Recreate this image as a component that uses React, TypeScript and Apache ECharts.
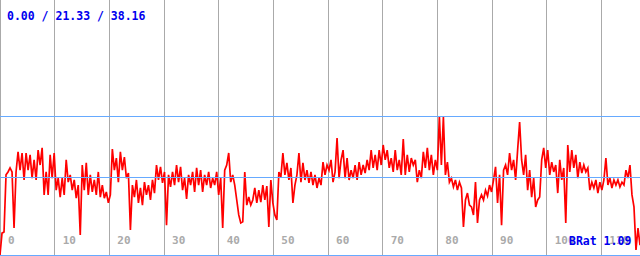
import React, { useEffect, useRef } from "react";
import * as echarts from "echarts";

// sampled values (one every ~2 px of the original strip)
const SAMPLES: number[] = [
  0, 6.0, 6.3, 22.0, 22.8, 23.9, 22.8, 7.4, 22.8, 28.3,
  23.3, 28.0, 20.6, 28.0, 23.3, 27.5, 21.1, 26.1, 20.6, 28.8,
  24.7, 29.4, 16.5, 22.8, 16.5, 27.5, 21.1, 28.0, 17.8, 21.1,
  15.9, 21.1, 16.5, 26.1, 20.0, 22.0, 17.8, 20.6, 15.6, 19.2,
  5.5, 24.7, 17.8, 25.3, 16.5, 22.0, 17.3, 20.6, 16.5, 22.8,
  15.9, 19.2, 15.6, 17.3,
  14.3, 16.5, 29.1, 23.3, 26.6, 20.0, 28.3, 23.3, 26.9, 21.1,
  22.5, 6.9, 19.2, 15.9, 20.6, 14.3, 18.4, 13.7, 20.0, 16.5,
  19.2, 15.1, 20.6, 17.0, 24.7, 20.6, 24.2, 19.8, 22.8, 8.2,
  22.0, 18.7, 22.8, 19.2, 24.7, 20.0, 24.2, 17.8, 21.1, 15.4,
  22.0, 19.2, 22.8, 17.3, 23.9, 19.2, 23.3, 17.3, 22.0, 19.2,
  22.8, 18.4, 21.1,
  19.2, 22.8, 16.5, 21.1, 7.4, 23.3, 24.7, 28.0, 20.0, 22.0,
  19.2, 15.1, 11.0, 8.8, 9.1, 22.8, 13.7, 15.9, 13.7, 15.1,
  18.4, 14.3, 17.8, 14.5, 19.2, 15.1, 18.9, 7.7, 20.6, 14.3,
  11.0, 9.6, 22.8, 21.4, 28.0, 22.0, 25.3, 20.6, 23.9, 14.3,
  19.2, 22.0, 28.0, 20.0, 25.3, 20.6, 23.3, 19.8, 22.8, 19.2,
  22.0, 18.4, 21.1, 19.2,
  25.5, 22.0, 24.7, 23.3, 26.1, 20.0, 22.8, 32.1, 21.1, 26.1,
  28.8, 21.1, 26.6, 20.6, 23.3, 21.1, 24.7, 20.6, 25.5, 22.0,
  24.7, 22.5, 26.1, 23.3, 28.8, 23.9, 27.5, 23.3, 28.8, 24.7,
  30.2, 26.1, 28.8, 23.9, 26.6, 22.8, 28.8, 23.3, 26.1, 22.0,
  31.8, 22.0, 27.5, 22.8, 26.6, 24.7, 26.1, 20.0, 23.3, 21.1,
  28.3, 23.9, 29.4,
  23.3, 27.5, 22.0, 26.1, 23.3, 38.16, 24.7, 37.9, 22.0, 25.5,
  20.0, 21.1, 18.7, 20.6, 17.8, 20.0, 18.4, 7.7, 15.1, 17.0,
  13.7, 13.2, 11.0, 20.0, 8.8, 15.1, 16.5, 15.1, 17.8, 16.2,
  19.2, 17.3, 20.6, 24.2, 14.3, 22.0, 8.2, 23.3, 24.7, 22.0,
  28.0, 23.3, 26.1, 20.6, 28.8, 36.5, 26.1, 22.0, 27.5, 17.8,
  23.3, 15.9, 21.1, 13.2,
  15.1, 15.9, 26.1, 29.4, 23.9, 28.8, 22.0, 25.5, 22.8, 24.7,
  17.0, 26.1, 20.6, 23.9, 8.8, 30.2, 22.8, 28.8, 23.9, 27.5,
  21.1, 25.5, 22.5, 24.7, 22.8, 23.9, 17.8, 20.0, 18.4, 20.6,
  17.0, 20.0, 17.8, 20.6, 26.6, 19.2, 21.1, 18.4, 20.6, 19.2,
  20.6, 18.7, 20.0, 19.2, 23.3, 21.1, 24.7, 16.5, 13.2, 1.4,
  7.4, 2.7,
];

const MIN_VAL = 0.0;
const AVG_VAL = 21.33;
const MAX_VAL = 38.16;
const BRAT_VAL = 1.09;

const X_MAX = 117.07;
const Y_MAX = 70;

const MONO = "'DejaVu Sans Mono', 'Liberation Mono', monospace";

export default function App() {
  const ref = useRef<HTMLDivElement>(null);
  useEffect(() => {
    document.body.style.margin = "0";
    const chart = echarts.init(ref.current!, null, { renderer: "svg" });
    chart.setOption({
      animation: false,
      backgroundColor: "#ffffff",
      grid: { left: 0, right: -2, top: 0, bottom: 1, containLabel: false },
      xAxis: [
        {
          type: "value",
          min: 0,
          max: X_MAX,
          interval: 10,
          axisLine: { show: true, onZero: false, lineStyle: { color: "#66aaff", width: 1 } },
          axisTick: { show: false },
          splitLine: { show: true, lineStyle: { color: "#aaaaaa", width: 1 } },
          axisLabel: {
            inside: true,
            margin: 9,
            align: "left",
            padding: [0, 0, 0, 8],
            color: "#aaaaaa",
            fontFamily: MONO,
            fontWeight: "bold",
            fontSize: 11,
            showMaxLabel: false,
          },
        },
        {
          type: "category",
          data: SAMPLES.map((_, i) => i),
          boundaryGap: false,
          show: false,
        },
      ],
      yAxis: {
        type: "value",
        min: 0,
        max: Y_MAX,
        show: false,
        splitLine: { show: false },
      },
      series: [
        {
          type: "line",
          xAxisIndex: 1,
          data: [],
          z: 1,
          markLine: {
            silent: true,
            symbol: "none",
            label: { show: false },
            lineStyle: { color: "#66aaff", type: "solid", width: 1 },
            data: [{ yAxis: AVG_VAL }, { yAxis: MAX_VAL }],
          },
        },
        {
          type: "line",
          xAxisIndex: 1,
          data: SAMPLES,
          z: 3,
          symbol: "none",
          lineStyle: { color: "#ff0000", width: 1.7, join: "miter" },
        },
      ],
      graphic: [
        {
          type: "text",
          left: 7,
          top: 10,
          z: 10,
          style: {
            text: `${MIN_VAL.toFixed(2)} / ${AVG_VAL.toFixed(2)} / ${MAX_VAL.toFixed(2)}`,
            fill: "#0000ee",
            font: `bold 11.5px ${MONO}`,
          },
        },
        {
          type: "text",
          left: 569,
          top: 235,
          z: 10,
          style: {
            text: `BRat ${BRAT_VAL.toFixed(2)}`,
            fill: "#0000ee",
            font: `bold 11.5px ${MONO}`,
          },
        },
      ],
    });
    return () => chart.dispose();
  }, []);
  return <div ref={ref} style={{ width: 640, height: 256 }} />;
}
